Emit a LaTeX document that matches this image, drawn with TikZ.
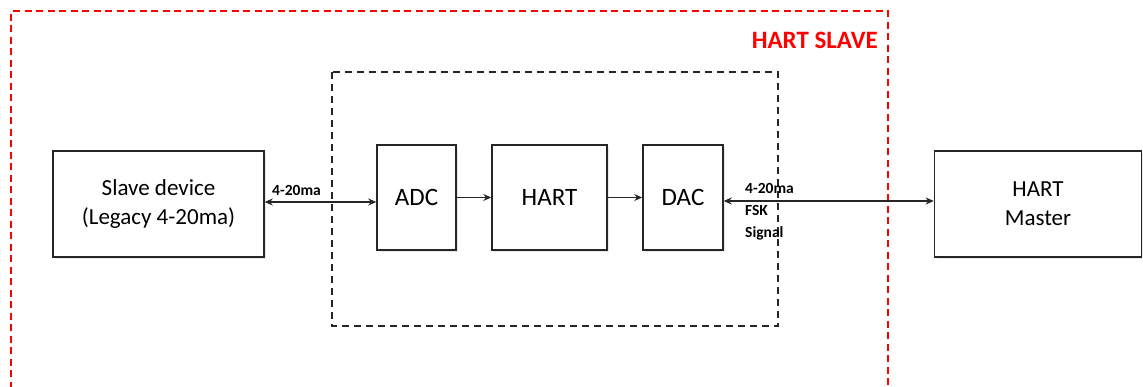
\documentclass[tikz,border=0pt]{standalone}
\usepackage{fontspec}
\setmainfont{Carlito}
\usetikzlibrary{arrows.meta,shadows}
\begin{document}
\begin{tikzpicture}[x=1pt,y=-1pt,
  block/.style={draw=black!85,line width=1.5pt,fill=white,inner sep=0pt,align=center,
    drop shadow={shadow xshift=2pt,shadow yshift=-2pt,opacity=0.18}},
  bigtxt/.style={font=\fontsize{23}{29}\selectfont},
  boxtxt/.style={font=\fontsize{25}{30}\selectfont},
  lbl/.style={font=\bfseries\fontsize{15.5}{22}\selectfont,inner sep=0pt,align=left},
  conn/.style={line width=1.5pt,black!85,arrows={-Stealth[length=8pt,width=7pt]}},
  dconn/.style={line width=1.5pt,black!85,arrows={Stealth[length=8pt,width=7pt]-Stealth[length=8pt,width=7pt]}}
]
\useasboundingbox (0,0) rectangle (1143,386);
\clip (0,0) rectangle (1143,386);
\fill[white] (0,0) rectangle (1143,386);
% HART slave (red dashed)
\draw[red,line width=1.3pt,dash pattern=on 7pt off 4.5pt] (11,400) -- (11,11) -- (888,11) -- (888,400);
\node[anchor=east,text=red,font=\bfseries\fontsize{25}{30}\selectfont,inner sep=0pt] (slavelbl) at (878,40) {HART SLAVE};
% inner dashed box
\draw[black!85,line width=1.5pt,dash pattern=on 7pt off 5pt] (332,72) rectangle (778,326);
% blocks
\node[block,bigtxt,minimum width=211pt,minimum height=106pt] (slave) at (158.5,204) {Slave device\\(Legacy 4-20ma)};
\node[block,boxtxt,minimum width=79pt,minimum height=105pt] (adc) at (416.5,197.5) {ADC};
\node[block,boxtxt,minimum width=115pt,minimum height=105pt] (hart) at (549.5,197.5) {HART};
\node[block,boxtxt,minimum width=80pt,minimum height=105pt] (dac) at (683,197.5) {DAC};
\node[block,bigtxt,minimum width=207pt,minimum height=106pt] (master) at (1038,204) {HART\\Master};
% connectors
\draw[dconn] ([yshift=2pt]slave.east) -- ([yshift=2pt]slave.east -| adc.west);
\draw[conn] (adc.east) -- (hart.west);
\draw[conn] (hart.east) -- (dac.west);
\draw[dconn] ([yshift=3pt]dac.east |- master.west) -- ([yshift=3pt]master.west);
% labels
\node[lbl,anchor=west] (l1) at (272,190) {4-20ma};
\node[lbl,anchor=north west] (l2) at (745,183) {4-20ma\\FSK\\Signal};
\end{tikzpicture}
\end{document}
